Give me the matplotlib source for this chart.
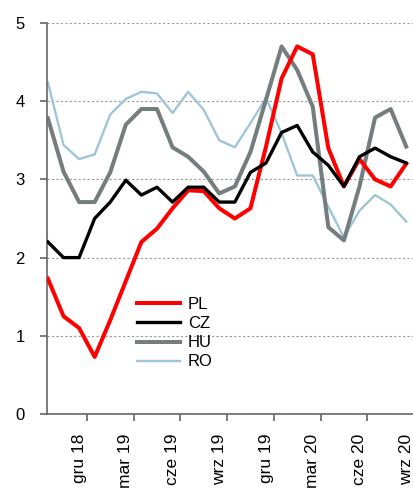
import numpy as np
import matplotlib
matplotlib.use("Agg")
import matplotlib.pyplot as plt

plt.rcParams['font.family'] = ['Liberation Sans', 'DejaVu Sans']

# monthly, paz 18 .. wrz 20
pl = [1.73, 1.25, 1.10, 0.73, 1.20, 1.70, 2.20, 2.37, 2.63, 2.86, 2.85, 2.63,
      2.50, 2.63, 3.42, 4.29, 4.70, 4.60, 3.40, 2.91, 3.26, 3.00, 2.91, 3.20]
cz = [2.20, 2.00, 2.00, 2.50, 2.71, 2.99, 2.80, 2.90, 2.71, 2.90, 2.90, 2.71,
      2.71, 3.09, 3.21, 3.60, 3.69, 3.35, 3.18, 2.91, 3.29, 3.40, 3.29, 3.21]
hu = [3.78, 3.10, 2.71, 2.71, 3.09, 3.70, 3.90, 3.90, 3.41, 3.29, 3.10, 2.82,
      2.91, 3.35, 4.02, 4.70, 4.40, 3.93, 2.39, 2.22, 2.91, 3.79, 3.90, 3.42]
ro = [4.24, 3.44, 3.26, 3.32, 3.83, 4.03, 4.12, 4.10, 3.85, 4.12, 3.89, 3.50,
      3.41, 3.72, 4.04, 3.59, 3.05, 3.05, 2.65, 2.26, 2.60, 2.80, 2.68, 2.46]
tick_labels = ['gru 18', 'mar 19', 'cze 19', 'wrz 19', 'gru 19', 'mar 20', 'cze 20', 'wrz 20']

x = np.arange(len(pl))

fig = plt.figure(figsize=(4.14, 4.97), dpi=100)
ax = fig.add_axes([47 / 414, 83 / 497, 1 - 47 / 414, 391 / 497])

ax.plot(x, pl, color='#ff0000', lw=2.9, label='PL', zorder=3)
ax.plot(x, cz, color='#000000', lw=2.4, label='CZ', zorder=4)
ax.plot(x, hu, color='#757d7e', lw=2.9, label='HU', zorder=2)
ax.plot(x, ro, color='#9ec6d8', lw=1.7, label='RO', zorder=1)

ax.set_ylim(0, 5)
ax.set_xlim(-0.06, 23.13)
ax.set_yticks(range(6))
ax.grid(axis='y', color='#999999', linestyle=(0, (2, 2)), linewidth=0.8)
ax.set_axisbelow(True)

# ticks between months, labels on the month
ax.set_xticks(np.arange(2.5, 24, 3))
ax.set_xticklabels([])
ax.set_xticks(np.arange(2, 24, 3), minor=True)
ax.set_xticklabels(tick_labels, minor=True, rotation=90, va='top', ha='center')
ax.tick_params(axis='x', which='major', length=5, width=1.2, color='#666666', direction='out')
ax.tick_params(axis='x', which='minor', length=0, pad=14, labelsize=12.5)
ax.tick_params(axis='y', length=5, width=1.2, color='#666666', pad=11, labelsize=12)

for s in ['top', 'right']:
    ax.spines[s].set_visible(False)
for s in ['left', 'bottom']:
    ax.spines[s].set_color('#666666')
    ax.spines[s].set_linewidth(1.2)

ax.legend(loc='upper left', bbox_to_anchor=(137 / 414, 1 - 297 / 497),
          bbox_transform=fig.transFigure, frameon=False, fontsize=12,
          handlelength=2.6, handletextpad=0.45, labelspacing=0.25,
          borderpad=0, borderaxespad=0)

fig.savefig('out.png', dpi=100)
